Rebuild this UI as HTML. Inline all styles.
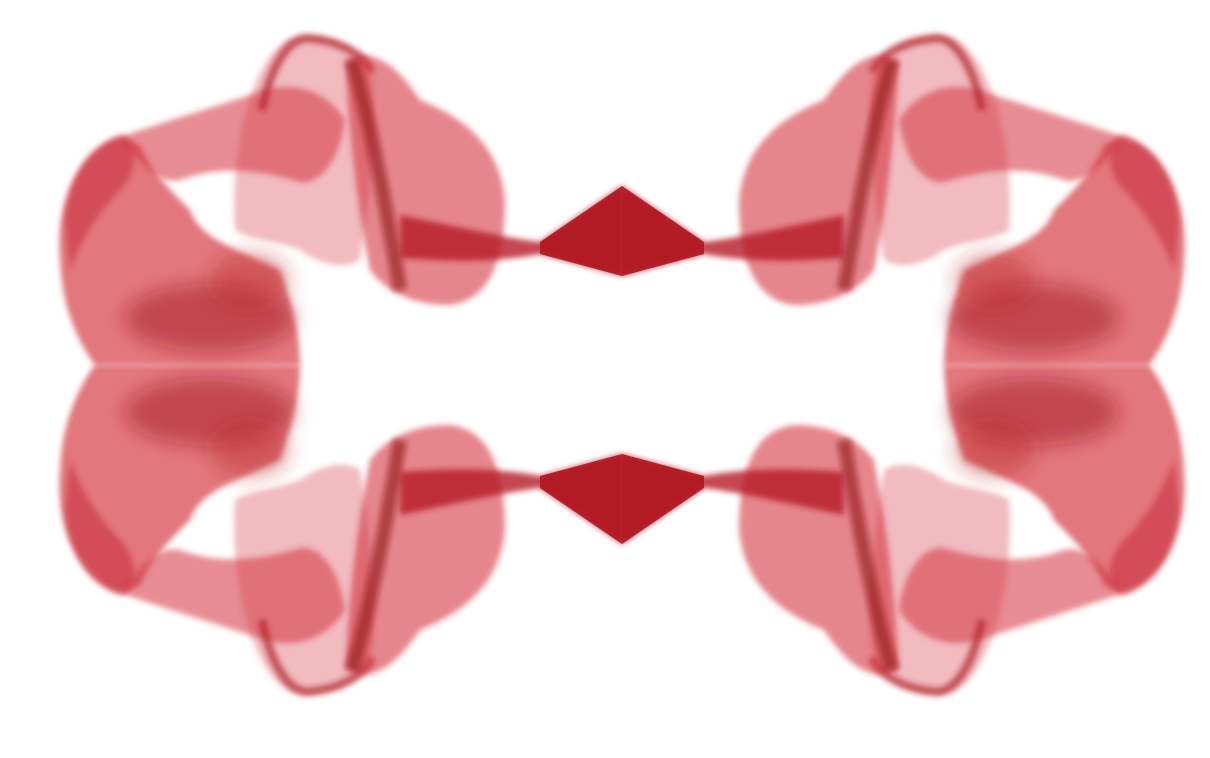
<!DOCTYPE html>
<html><head><meta charset="utf-8"><style>
html,body{margin:0;padding:0;background:#fff;width:1210px;height:758px;overflow:hidden}
svg{display:block}
</style></head><body>
<svg width="1210" height="758" viewBox="0 0 1210 758">
<defs>
<filter id="soft" filterUnits="userSpaceOnUse" x="-100" y="-100" width="1400" height="1000"><feGaussianBlur stdDeviation="3"/></filter>
<filter id="soft2" filterUnits="userSpaceOnUse" x="-100" y="-100" width="1400" height="1000"><feGaussianBlur stdDeviation="9"/></filter>
<g id="quad">
  <!-- left lobe -->
  <path d="M120,135 C80,150 55,200 60,260 C62,310 80,345 95,365 L300,365 C300,330 290,300 280,270 C240,250 200,240 190,210 C170,190 150,170 140,145 Z" fill="#d3303a" fill-opacity="0.66" filter="url(#soft)"/>
  <path d="M65,220 C70,170 95,140 125,138 C140,150 135,175 120,190 C100,210 80,240 70,270 Z" fill="#c42630" fill-opacity="0.5" filter="url(#soft)"/>
  <!-- core dark -->
  <ellipse cx="210" cy="318" rx="85" ry="34" fill="#a3161e" fill-opacity="0.5" filter="url(#soft2)"/>
  <ellipse cx="250" cy="280" rx="40" ry="28" fill="#b8222a" fill-opacity="0.4" filter="url(#soft2)"/>
  <!-- upper band -->
  <path d="M120,137 C170,120 220,105 265,90 C300,80 330,95 345,120 C340,160 320,185 300,182 C260,170 220,165 180,180 C160,185 140,165 120,137 Z" fill="#d3303a" fill-opacity="0.55" filter="url(#soft)"/>
  <!-- loop -->
  <path d="M235,230 C230,150 250,60 290,38 C330,30 360,50 370,70 C380,110 370,200 360,260 C345,270 320,265 300,250 C275,240 250,240 235,230 Z" fill="#d8404a" fill-opacity="0.35" filter="url(#soft)"/>
  <path d="M262,110 C270,70 285,42 305,38 C340,40 365,55 372,72" fill="none" stroke="#b01c24" stroke-opacity="0.7" stroke-width="8" filter="url(#soft)"/>
  <!-- right sail -->
  <path d="M345,60 C375,45 400,70 420,100 C470,120 500,150 505,200 C505,260 490,300 450,305 C410,305 385,290 370,270 C360,220 350,150 345,60 Z" fill="#d3303a" fill-opacity="0.58" filter="url(#soft)"/>
  <path d="M352,60 C370,120 385,200 400,290" fill="none" stroke="#8e0f18" stroke-opacity="0.6" stroke-width="14" filter="url(#soft)"/>
  <!-- bridge -->
  <path d="M400,215 C450,225 505,238 540,242 L622,186 L622,276 L540,254 C500,262 450,262 400,258 Z" fill="#b51d26" fill-opacity="0.8" filter="url(#soft)"/>
  <path d="M540,242 L622,186 L622,276 L540,254 Z" fill="#b0151f" fill-opacity="0.9"/>
</g>
</defs>
<g><use href="#quad"/></g>
<g transform="translate(1244,0) scale(-1,1)"><use href="#quad"/></g>
<g transform="translate(0,730) scale(1,-1)"><use href="#quad"/></g>
<g transform="translate(1244,730) scale(-1,-1)"><use href="#quad"/></g>
</svg>
</body></html>
